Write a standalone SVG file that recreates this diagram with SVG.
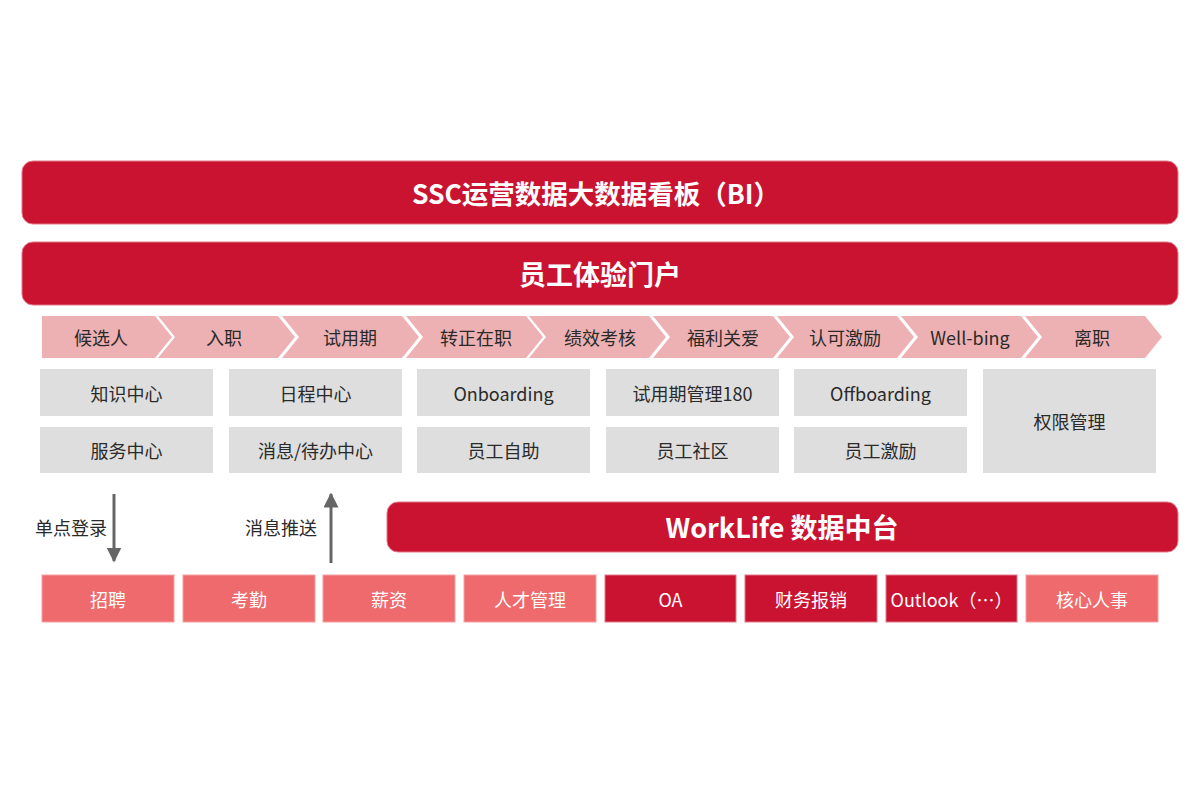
<svg xmlns="http://www.w3.org/2000/svg" width="1200" height="796" viewBox="0 0 1200 796">
<defs>
<style>
.bar{fill:#c91331;stroke:#e07a8a;stroke-width:1}
.barT{font-family:"Noto Sans CJK SC","Noto Sans",sans-serif;font-weight:700;fill:#fff;text-anchor:middle;dominant-baseline:central}
.chev{fill:#eeb1b3}
.t{font-family:"Noto Sans CJK SC","Noto Sans",sans-serif;font-size:18px;fill:#2a2a2a;text-anchor:middle;dominant-baseline:central}
.gray{fill:#dedede}
.sal{fill:#ef6a6c;stroke:#f6a0a2;stroke-width:1}
.crim{fill:#c91331;stroke:#e07a8a;stroke-width:1}
.w{font-family:"Noto Sans CJK SC","Noto Sans",sans-serif;font-size:18px;fill:#fff;text-anchor:middle;dominant-baseline:central}
.conn{stroke:#666;stroke-width:3;fill:none}
</style>
<marker id="ah" viewBox="0 0 10 10" refX="9" refY="5" markerWidth="5" markerHeight="5" markerUnits="strokeWidth" orient="auto">
<path d="M0,0 L10,5 L0,10 Z" fill="#666"/>
</marker>
</defs>
<rect width="1200" height="796" fill="#fff"/>

<g id="bi">
<rect class="bar" x="22" y="161" width="1156" height="63" rx="11"/>
<text class="barT" x="596" y="192" font-size="26.5">SSC运营数据大数据看板（BI）</text>
</g>
<g id="portal">
<rect class="bar" x="22" y="242" width="1156" height="63" rx="11"/>
<text class="barT" x="600" y="273" font-size="27">员工体验门户</text>
</g>

<g id="stages">
<g id="s1"><polygon class="chev" points="42,316 155,316 172,337 155,358 42,358"/><text class="t" x="101" y="337">候选人</text></g>
<g id="s2"><polygon class="chev" points="158,316 278,316 295,337 278,358 158,358 175,337"/><text class="t" x="224" y="337">入职</text></g>
<g id="s3"><polygon class="chev" points="282,316 402,316 419,337 402,358 282,358 299,337"/><text class="t" x="350" y="337">试用期</text></g>
<g id="s4"><polygon class="chev" points="406,316 526,316 543,337 526,358 406,358 423,337"/><text class="t" x="476" y="337">转正在职</text></g>
<g id="s5"><polygon class="chev" points="529,316 649,316 666,337 649,358 529,358 546,337"/><text class="t" x="600" y="337">绩效考核</text></g>
<g id="s6"><polygon class="chev" points="653,316 773,316 790,337 773,358 653,358 670,337"/><text class="t" x="723" y="337">福利关爱</text></g>
<g id="s7"><polygon class="chev" points="777,316 897,316 914,337 897,358 777,358 794,337"/><text class="t" x="845" y="337">认可激励</text></g>
<g id="s8"><polygon class="chev" points="901,316 1021,316 1038,337 1021,358 901,358 918,337"/><text class="t" x="970" y="337">Well-bing</text></g>
<g id="s9"><polygon class="chev" points="1025,316 1145,316 1162,337 1145,358 1025,358 1042,337"/><text class="t" x="1092" y="337">离职</text></g>
</g>

<g id="modules">
<g id="m1"><rect class="gray" x="40" y="369" width="173" height="47"/><text class="t" x="126.5" y="393">知识中心</text></g>
<g id="m2"><rect class="gray" x="229" y="369" width="173" height="47"/><text class="t" x="315.5" y="393">日程中心</text></g>
<g id="m3"><rect class="gray" x="417" y="369" width="173" height="47"/><text class="t" x="503.5" y="393">Onboarding</text></g>
<g id="m4"><rect class="gray" x="606" y="369" width="173" height="47"/><text class="t" x="692.5" y="393">试用期管理180</text></g>
<g id="m5"><rect class="gray" x="794" y="369" width="173" height="47"/><text class="t" x="880.5" y="393">Offboarding</text></g>
<g id="m6"><rect class="gray" x="40" y="427" width="173" height="46"/><text class="t" x="126.5" y="450">服务中心</text></g>
<g id="m7"><rect class="gray" x="229" y="427" width="173" height="46"/><text class="t" x="315.5" y="450">消息/待办中心</text></g>
<g id="m8"><rect class="gray" x="417" y="427" width="173" height="46"/><text class="t" x="503.5" y="450">员工自助</text></g>
<g id="m9"><rect class="gray" x="606" y="427" width="173" height="46"/><text class="t" x="692.5" y="450">员工社区</text></g>
<g id="m10"><rect class="gray" x="794" y="427" width="173" height="46"/><text class="t" x="880.5" y="450">员工激励</text></g>
<g id="m11"><rect class="gray" x="983" y="369" width="173" height="104"/><text class="t" x="1069.5" y="421">权限管理</text></g>
</g>

<g id="connectors">
<line class="conn" x1="114" y1="494" x2="114" y2="561" marker-end="url(#ah)"/>
<line class="conn" x1="331" y1="563" x2="331" y2="494" marker-end="url(#ah)"/>
<text class="t" x="71" y="527">单点登录</text>
<text class="t" x="281" y="527">消息推送</text>
</g>

<g id="worklife">
<rect class="bar" x="387" y="502" width="791" height="50" rx="11"/>
<text class="barT" x="782" y="526" font-size="27">WorkLife 数据中台</text>
</g>

<g id="systems">
<g id="b1"><rect class="sal" x="42" y="575" width="132" height="47"/><text class="w" x="108" y="599">招聘</text></g>
<g id="b2"><rect class="sal" x="183" y="575" width="132" height="47"/><text class="w" x="249" y="599">考勤</text></g>
<g id="b3"><rect class="sal" x="323" y="575" width="132" height="47"/><text class="w" x="389" y="599">薪资</text></g>
<g id="b4"><rect class="sal" x="464" y="575" width="132" height="47"/><text class="w" x="530" y="599">人才管理</text></g>
<g id="b5"><rect class="crim" x="605" y="575" width="131" height="47"/><text class="w" x="670.5" y="599">OA</text></g>
<g id="b6"><rect class="crim" x="745" y="575" width="132" height="47"/><text class="w" x="811" y="599">财务报销</text></g>
<g id="b7"><rect class="crim" x="886" y="575" width="131" height="47"/><text class="w" x="951.5" y="599">Outlook（…）</text></g>
<g id="b8"><rect class="sal" x="1026" y="575" width="132" height="47"/><text class="w" x="1092" y="599">核心人事</text></g>
</g>
</svg>
